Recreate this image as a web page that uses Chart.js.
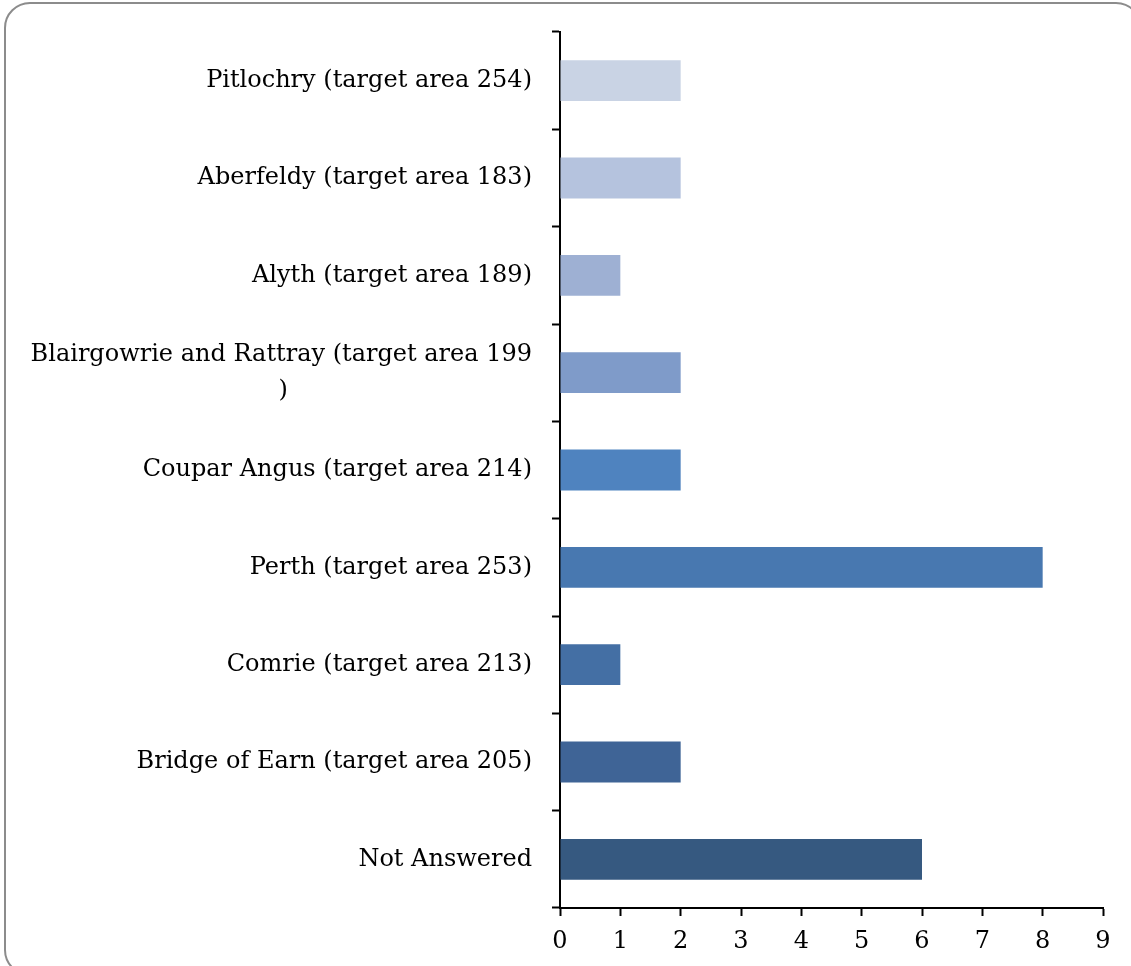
<!DOCTYPE html>
<html>
<head>
<meta charset="utf-8">
<script src="https://cdn.jsdelivr.net/npm/chart.js@4"></script>
<style>
  html, body { margin: 0; padding: 0; background: #fff; overflow: hidden; }
  .frame {
    position: absolute; left: 4px; top: 2px;
    width: 1138px; height: 974px;
    border: 2px solid #8c8c8c; border-radius: 26px;
    box-sizing: border-box;
  }
  .chart-wrap { position: absolute; left: 0; top: 0; width: 1131px; height: 966px; }
</style>
</head>
<body>
<div class="frame"></div>
<div class="chart-wrap"><canvas id="chart"></canvas></div>
<script>
const categories = [
  'Pitlochry (target area 254)',
  'Aberfeldy (target area 183)',
  'Alyth (target area 189)',
  'Blairgowrie and Rattray (target area 199',
  'Coupar Angus (target area 214)',
  'Perth (target area 253)',
  'Comrie (target area 213)',
  'Bridge of Earn (target area 205)',
  'Not Answered'
];
const counts = [2, 2, 1, 2, 2, 8, 1, 2, 6];
const barColors = ['#c9d3e4', '#b5c3de', '#9eb0d3', '#7f9bc9', '#4f83bf', '#4878b0', '#446fa4', '#3f6496', '#365980'];
const xTicks = [0, 1, 2, 3, 4, 5, 6, 7, 8, 9];

const FONT = "'DejaVu Serif', serif";
const FONT_SIZE = 24;

// the long label wraps, its ")" sits centred under the first line
const measure = document.createElement('canvas').getContext('2d');
measure.font = FONT_SIZE + 'px ' + FONT;
function wrapped(label) {
  if (label.endsWith(')') || label == 'Not Answered') return label;
  const pad = (measure.measureText(label).width - measure.measureText(')').width) / 2;
  const n = Math.round(pad / measure.measureText(' ').width);
  return [label, ')' + ' '.repeat(n)];
}
const labels = categories.map(wrapped);

const ctx = document.getElementById('chart').getContext('2d');
const chart = new Chart(ctx, {
  type: 'bar',
  data: {
    labels: labels,
    datasets: [{
      data: counts,
      backgroundColor: barColors,
      borderWidth: 0,
      categoryPercentage: 1,
      barPercentage: 0.42
    }]
  },
  options: {
    indexAxis: 'y',
    responsive: true,
    maintainAspectRatio: false,
    animation: false,
    layout: { padding: { top: 32, right: 28, left: 0, bottom: 0 } },
    plugins: { legend: { display: false }, tooltip: { enabled: false } },
    scales: {
      x: {
        min: 0,
        max: 9,
        afterBuildTicks: (scale) => { scale.ticks = xTicks.map(v => ({ value: v })); },
        afterFit: (scale) => { scale.height = 58; },
        border: { color: '#000', width: 2 },
        grid: { drawOnChartArea: false, drawTicks: true, tickLength: 8, tickColor: '#000', tickWidth: 2 },
        ticks: { color: '#000', padding: 11, font: { family: FONT, size: FONT_SIZE } }
      },
      y: {
        afterFit: (scale) => {
          scale.width = 560;
          // labels sit mid-category, no overhang needed at the ends
          scale.paddingTop = 0;
          scale.paddingBottom = 0;
        },
        border: { color: '#000', width: 2 },
        grid: { drawOnChartArea: false, drawTicks: true, tickLength: 8, tickColor: '#000', tickWidth: 2, offset: true },
        ticks: { color: '#000', padding: 20, autoSkip: false, font: { family: FONT, size: FONT_SIZE, lineHeight: 1.5 } }
      }
    }
  }
});
</script>
</body>
</html>
